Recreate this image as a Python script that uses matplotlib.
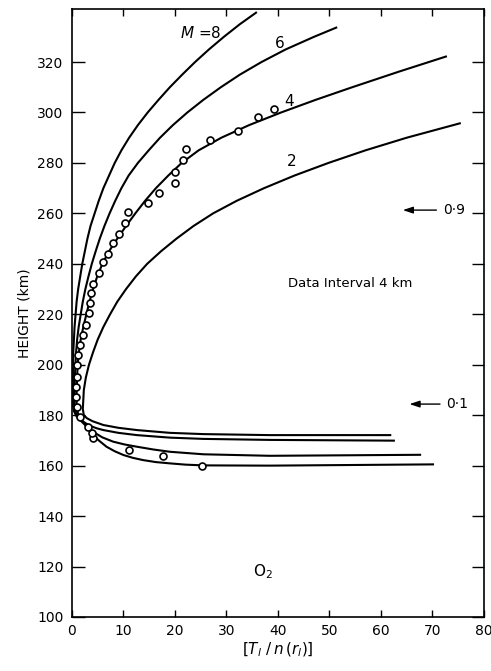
import matplotlib
matplotlib.use("Agg")
import matplotlib.pyplot as plt

# ---- data ----
m_labels = ["M = 8", "6", "4", "2"]

# each curve: lower branch (right end -> turn) followed by upper branch (turn -> top)
m2_x = [62.0, 38.4, 25.5, 19.0, 12.6, 9.0, 6.1, 4.0, 2.9, 2.3, 2.1, 2.2,
        2.3, 2.7, 3.3, 4.1, 5.0, 6.1, 7.4, 8.8, 10.5, 12.4, 14.6, 17.3, 20.3, 23.6, 27.4, 32.0, 37.3, 43.2, 49.8, 57.0, 65.0, 75.5]
m2_y = [172.1, 172.1, 172.5, 173.0, 174.1, 175.0, 176.1, 177.6, 178.8, 180.0, 182.5, 186.0,
        190.0, 195.0, 200.0, 205.0, 210.0, 215.0, 220.0, 225.0, 230.0, 235.0, 240.0, 245.0, 250.0, 255.0, 260.0, 265.0, 270.0, 275.0, 280.0, 285.0, 290.0, 295.8]

m6_x = [62.7, 38.4, 25.5, 19.0, 12.6, 9.0, 6.1, 4.8, 3.5, 2.5, 1.6, 1.0, 0.55,
        0.5, 0.55, 0.8, 1.0, 1.3, 1.7, 2.1, 2.6, 3.2, 3.85, 4.6, 5.4, 6.3, 7.3, 8.4, 9.6, 11.0, 12.8, 14.9, 17.1, 19.6, 22.4, 25.5, 28.9, 32.6, 36.8, 41.5, 47.0, 51.5]
m6_y = [169.9, 170.2, 170.6, 171.1, 172.1, 173.0, 174.1, 174.8, 175.8, 177.0, 178.3, 179.8, 182.0,
        185.0, 195.0, 205.0, 210.0, 215.0, 220.0, 225.0, 230.0, 235.0, 240.0, 245.0, 250.0, 255.0, 260.0, 265.0, 270.0, 275.0, 280.0, 285.0, 290.0, 295.0, 300.0, 305.0, 310.0, 315.0, 320.0, 325.0, 330.0, 333.8]

m4_x = [67.8, 38.4, 25.5, 19.0, 15.8, 12.6, 10.2, 8.0, 5.9, 4.1, 3.3, 2.6, 1.8, 1.2, 0.9,
        0.9, 1.1, 1.35, 1.7, 2.2, 2.8, 3.4, 4.1, 4.9, 5.9, 7.2, 8.8, 10.5, 12.3, 14.2, 16.3, 18.7, 21.3, 24.6, 29.0, 34.4, 40.6, 47.3, 54.4, 63.5, 72.8]
m4_y = [164.3, 163.9, 164.5, 165.5, 166.4, 167.5, 168.4, 169.5, 171.2, 173.4, 174.8, 176.3, 178.3, 180.5, 183.0,
        190.0, 200.0, 205.0, 210.0, 215.0, 220.0, 225.0, 230.0, 235.0, 240.0, 245.0, 250.0, 255.0, 260.0, 265.0, 270.0, 275.0, 280.0, 285.0, 290.0, 295.0, 300.0, 305.0, 310.0, 316.2, 322.3]

m8_x = [70.3, 38.4, 25.5, 22.0, 19.0, 16.3, 13.8, 11.8, 10.0, 8.3, 6.7, 5.2, 4.1, 3.3, 2.5, 1.6, 0.9, 0.4, 0.2,
        0.2, 0.2, 0.25, 0.5, 0.7, 0.9, 1.2, 1.6, 2.0, 2.5, 3.0, 3.6, 4.4, 5.2, 6.1, 7.2, 8.3, 9.6, 11.1, 12.8, 14.7, 16.8, 19.0, 21.4, 23.9, 26.6, 29.5, 32.6, 35.9]
m8_y = [160.5, 160.0, 160.1, 160.4, 160.9, 161.4, 162.2, 163.1, 164.2, 165.7, 167.5, 170.0, 172.1, 174.0, 176.2, 178.0, 179.5, 181.5, 184.0,
        190.0, 195.0, 205.0, 215.0, 220.0, 225.0, 230.0, 235.0, 240.0, 245.0, 250.0, 255.0, 260.0, 265.0, 270.0, 275.0, 280.0, 285.0, 290.0, 295.0, 300.0, 305.0, 310.0, 315.0, 320.0, 325.0, 330.0, 335.0, 339.8]

obs_x = [25.2, 17.7, 11.0, 4.1, 3.9, 3.2, 1.6, 1.0, 0.8, 0.8, 1.0, 1.0, 1.2, 1.6, 2.1, 2.7, 3.3, 3.5, 3.7, 4.1,
         5.2, 6.0, 7.0, 8.0, 9.1, 10.3, 10.9, 14.8, 16.9, 20.0, 20.0, 21.6, 22.1, 26.8, 32.2, 36.1, 39.2]
obs_y = [159.8, 163.8, 166.2, 171.0, 173.0, 175.3, 179.3, 183.2, 187.2, 191.0, 195.0, 199.9, 203.8, 207.8, 211.8, 215.7, 220.5, 224.5, 228.4, 232.0,
         236.3, 240.7, 243.9, 248.2, 251.8, 256.2, 260.5, 264.0, 268.0, 272.0, 276.4, 281.0, 285.5, 289.0, 292.6, 298.2, 301.3]

x_ticks = [0, 10, 20, 30, 40, 50, 60, 70, 80]
y_ticks = [100, 120, 140, 160, 180, 200, 220, 240, 260, 280, 300, 320]

# ---- figure ----
plt.rcParams['font.family'] = ['DejaVu Sans']
fig = plt.figure(figsize=(4.91, 6.71), dpi=100)
ax = fig.add_axes([0.1466, 0.0805, 0.8391, 0.906])

lw = 1.5
for xs, ys in [(m2_x, m2_y), (m4_x, m4_y), (m6_x, m6_y), (m8_x, m8_y)]:
    ax.plot(xs, ys, color="black", lw=lw, solid_capstyle="butt", solid_joinstyle="round")

ax.plot(obs_x, obs_y, linestyle="none", marker="o", markersize=5,
        markerfacecolor="white", markeredgecolor="black", markeredgewidth=1.2, zorder=3)

ax.set_xlim(0, 80)
ax.set_ylim(100, 341)
ax.set_xticks(x_ticks)
ax.set_yticks(y_ticks)
ax.set_xticklabels([str(v) for v in x_ticks], fontsize=10)
ax.set_yticklabels([str(v) for v in y_ticks], fontsize=10)
ax.tick_params(axis="y", direction="in", length=9, width=1.0, right=True, pad=6)
ax.tick_params(axis="x", direction="in", length=5, width=1.0, top=True, pad=5)
for s in ax.spines.values():
    s.set_linewidth(1.2)

ax.set_ylabel("HEIGHT (km)", fontsize=10, labelpad=4)
ax.set_xlabel(r"$\left[T_l\ /\,n\,(r_l)\right]$", fontsize=11, labelpad=2)

# curve labels
ax.text(24.9, 331.5, r"$M$ =8", fontsize=11, ha="center", va="center")
ax.text(40.4, 327.5, m_labels[1], fontsize=11, ha="center", va="center")
ax.text(42.2, 304.5, m_labels[2], fontsize=11, ha="center", va="center")
ax.text(42.6, 280.5, m_labels[3], fontsize=11, ha="center", va="center")

ax.text(54.0, 232.4, "Data Interval 4 km", fontsize=9.5, ha="center", va="center")
ax.text(37.1, 117.8, r"O$_2$", fontsize=11, ha="center", va="center")

# arrows
ax.annotate("", xy=(63.7, 261.3), xytext=(71.3, 261.3),
            arrowprops=dict(arrowstyle="-|>,head_length=0.6,head_width=0.2", color="black", lw=1.0))
ax.text(72.0, 261.3, "0·9", fontsize=10, ha="left", va="center")
ax.annotate("", xy=(65.0, 184.4), xytext=(72.0, 184.4),
            arrowprops=dict(arrowstyle="-|>,head_length=0.6,head_width=0.2", color="black", lw=1.0))
ax.text(72.6, 184.4, "0·1", fontsize=10, ha="left", va="center")

fig.savefig("out.png", dpi=100)
